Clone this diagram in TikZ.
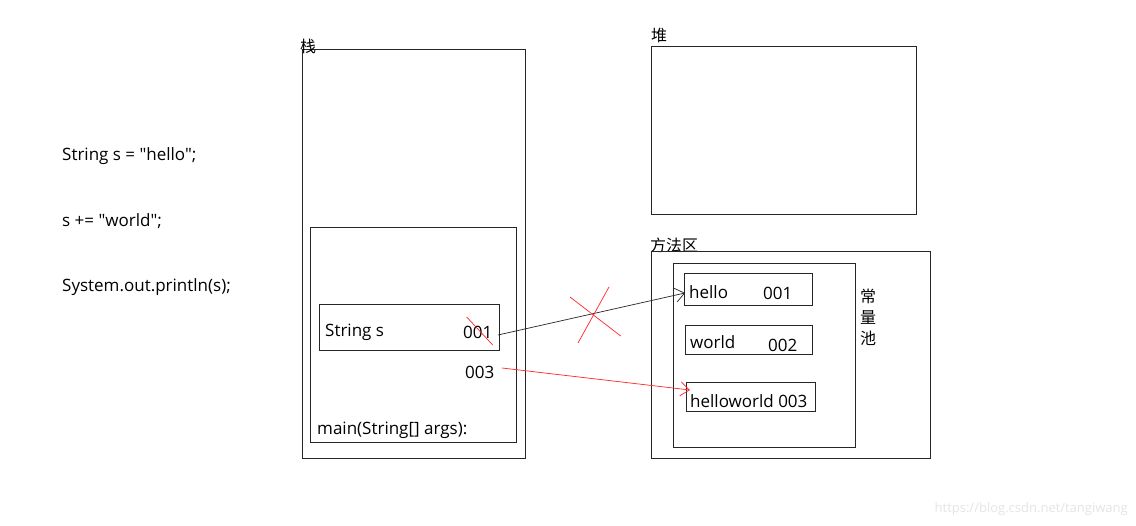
\documentclass[tikz,border=0pt]{standalone}
\usepackage{fontspec}
\setmainfont{Open Sans}[Ligatures=TeXOff]
\newfontfamily\cjk{Noto Sans CJK SC}
\usetikzlibrary{arrows.meta}
\begin{document}
\begin{tikzpicture}[x=1pt,y=-1pt,
  box/.style={draw=black!85,line width=0.9pt},
  txt/.style={inner sep=0pt,anchor=west,font=\fontsize{17}{20}\selectfont},
  lbl/.style={inner sep=0pt,anchor=south west,font=\cjk\fontsize{16}{19}\selectfont},
  redline/.style={draw=red!85,line width=0.7pt}]
\useasboundingbox[fill=white] (0,0) rectangle (1136,526);
% left code
\node[txt] (c1) at (62,156) {String s = "hello";};
\node[txt] (c2) at (62,221) {s += "world";};
\node[txt] (c3) at (62,287) {System.out.println(s);};
% stack
\draw[box] (302,49) rectangle (525,458);
\node[lbl] (zhan) at (300,54) {栈};
\draw[box] (310,227) rectangle (516,442);
\draw[box] (319,304) rectangle (499,350);
\node[txt] (ss) at (325,332) {String s};
\node[txt] (a1) at (463,332) {001};
\node[txt] (a3) at (465,372) {003};
\node[txt] (mainl) at (317,430) {main(String[] args):};
\draw[redline] (466.7,317) -- (492.7,345);
% heap
\draw[box] (651,46) rectangle (916,214);
\node[lbl] (dui) at (651,43) {堆};
% method area
\node[lbl] (ff) at (650,253) {方法区};
\draw[box] (651,251) rectangle (930,458);
\draw[box] (673,263) rectangle (855,447);
\node[inner sep=0pt,font=\cjk\fontsize{16}{21}\selectfont,align=center] (pool) at (868,317) {常\\量\\池};
\draw[box] (684,273) rectangle (812,305);
\node[txt] (h) at (689,292) {hello};
\node[txt] (h1) at (763,293) {001};
\coordinate (hin) at (685,293);
\draw[box] (685,325) rectangle (812,354);
\node[txt] (w) at (690,342) {world};
\node[txt] (w2) at (768,345) {002};
\draw[box] (686,382) rectangle (815,411);
\node[txt] (hw) at (690,401) {helloworld 003};
\coordinate (hwin) at (690,390);
% arrows
\coordinate (o1) at (498,335);
\coordinate (o3) at (502,368);
\draw[black!85,line width=0.7pt,-{Straight Barb[length=9pt,width=14pt]}] (o1) -- (hin);
\draw[red!85,line width=0.7pt,-{Straight Barb[length=9pt,width=14pt]}] (o3) -- (hwin);
% red X
\draw[redline] (570,297) -- (620.7,336);
\draw[redline] (609,287) -- (578,343);
% watermark
\node[inner sep=0pt,anchor=east,text=black!10,font=\fontsize{13}{15}\selectfont] (wm) at (1128,509) {https://blog.csdn.net/tangiwang};
\end{tikzpicture}
\end{document}
